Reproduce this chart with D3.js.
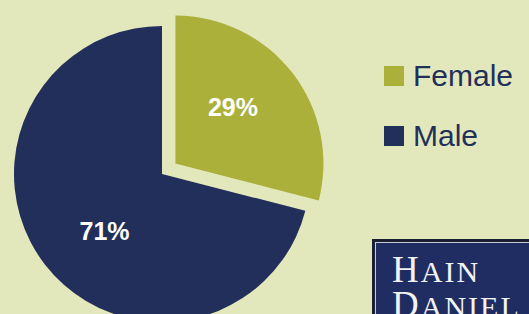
<!DOCTYPE html>
<html>
<head>
<meta charset="utf-8">
<script src="https://cdn.jsdelivr.net/npm/d3@7"></script>
<style>
  html, body { margin: 0; padding: 0; background: #e3e7bc; }
  svg { display: block; }
</style>
</head>
<body>
<svg id="chart" width="529" height="314"></svg>
<script>
// chart data
var categories = ["Female", "Male"];
var values = [29, 71];
var colors = ["#aab03a", "#222f5b"];

var svg = d3.select("#chart");

var cx = 162, cy = 174, radius = 148;
var explode = 17;
var labelR = 81, labelTurn = -7 * Math.PI / 180;

var pie = d3.pie().sort(null).value(function (d) { return d; });
var arc = d3.arc().innerRadius(0).outerRadius(radius);

var arcs = pie(values);

var plot = svg.append("g")
    .attr("transform", "translate(" + cx + "," + cy + ")");

var slice = plot.selectAll("g.slice")
    .data(arcs)
    .enter()
    .append("g")
    .attr("class", "slice")
    .attr("transform", function (d, i) {
        if (i !== 0) return null;
        var mid = (d.startAngle + d.endAngle) / 2;
        return "translate(" + (Math.sin(mid) * explode) + "," + (-Math.cos(mid) * explode) + ")";
    });

slice.append("path")
    .attr("d", arc)
    .style("fill", function (d, i) { return colors[i]; });

slice.append("text")
    .attr("transform", function (d) {
        var a = (d.startAngle + d.endAngle) / 2 + labelTurn;
        return "translate(" + (Math.sin(a) * labelR) + "," + (-Math.cos(a) * labelR) + ")";
    })
    .attr("dy", "0.36em")
    .attr("text-anchor", "middle")
    .style("font-family", "Liberation Sans, Arial, sans-serif")
    .style("font-weight", "bold")
    .style("font-size", "25px")
    .style("fill", "#ffffff")
    .text(function (d) { return d.value + "%"; });

// legend
var legend = svg.append("g")
    .attr("transform", "translate(384,66)");

var item = legend.selectAll("g.legend-item")
    .data(categories)
    .enter()
    .append("g")
    .attr("class", "legend-item")
    .attr("transform", function (d, i) { return "translate(0," + (i * 60) + ")"; });

item.append("rect")
    .attr("width", 20)
    .attr("height", 20)
    .style("fill", function (d, i) { return colors[i]; });

item.append("text")
    .attr("x", 29)
    .attr("y", 20)
    .style("font-family", "Liberation Sans, Arial, sans-serif")
    .style("font-size", "30px")
    .style("fill", "#222f5b")
    .text(function (d) { return d; });

// logo, cropped at the corner as in the original
var logo = svg.append("g");
logo.append("rect")
    .attr("x", 372).attr("y", 239)
    .attr("width", 170).attr("height", 90)
    .style("fill", "#1a1f33");
logo.append("rect")
    .attr("x", 375).attr("y", 242)
    .attr("width", 170).attr("height", 90)
    .style("fill", "#c9cbd3");
logo.append("rect")
    .attr("x", 376).attr("y", 243)
    .attr("width", 170).attr("height", 90)
    .style("fill", "#1f2d62");

var logoText = logo.append("g")
    .style("font-family", "Liberation Serif, Times New Roman, serif")
    .style("letter-spacing", "2px")
    .style("fill", "#f2f2f2");

var line1 = logoText.append("text").attr("x", 392).attr("y", 282);
line1.append("tspan").style("font-size", "37px").text("H");
line1.append("tspan").style("font-size", "30px").text("AIN");

var line2 = logoText.append("text").attr("x", 392).attr("y", 317);
line2.append("tspan").style("font-size", "37px").text("D");
line2.append("tspan").style("font-size", "30px").text("ANIEL");
</script>
</body>
</html>
